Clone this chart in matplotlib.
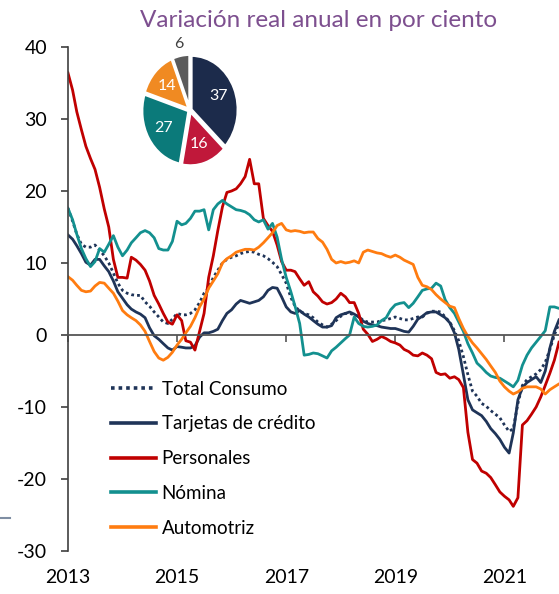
import numpy as np
import pandas as pd
import matplotlib
matplotlib.use('Agg')
import matplotlib.pyplot as plt
from matplotlib.lines import Line2D

plt.rcParams['font.family'] = ['Lato', 'DejaVu Sans']
plt.rcParams['font.size'] = 13
plt.rcParams['axes.unicode_minus'] = False

# monthly, Jan 2013 .. Jan 2022
fechas = pd.date_range('2013-01-01', periods=109, freq='MS')

total_consumo = [17.6, 15.8, 14.0, 12.6, 12.2, 12.2, 12.5, 11.8, 11.0, 10.0, 8.6, 7.2,
                 6.2, 5.8, 5.6, 5.5, 5.5, 4.6, 4.0, 3.2, 2.5, 1.8, 1.6, 2.2,
                 3.0, 2.8, 2.8, 3.0, 3.5, 4.5, 5.8, 6.5, 8.0, 9.0, 10.0, 10.5,
                 10.8, 11.0, 11.3, 11.5, 11.6, 11.5, 11.2, 11.0, 10.6, 10.1, 9.5, 8.4,
                 7.2, 5.2, 4.0, 3.3, 3.0, 2.8, 2.4, 1.8, 1.4, 1.1, 1.5, 2.0,
                 2.6, 3.0, 3.0, 2.8, 2.6, 2.0, 1.8, 1.8, 1.8, 2.0, 2.1, 2.3,
                 2.5, 2.3, 2.1, 2.1, 2.3, 2.5, 2.5, 3.0, 3.3, 3.3, 3.2, 2.5,
                 1.8, 0.6, -0.8, -3.0, -5.5, -7.8, -8.5, -9.5, -9.9, -10.5, -11.0, -11.5,
                 -12.5, -13.4, -13.0, -9.5, -7.0, -6.2, -5.8, -5.4, -4.8, -3.8, -2.0, 0.0,
                 1.6]

tarjetas = [13.9, 13.3, 12.4, 11.3, 10.1, 9.7, 10.5, 10.5, 9.6, 8.8, 7.5, 6.0,
            5.1, 4.2, 3.6, 3.2, 2.9, 2.4, 1.0, -0.1, -0.6, -1.2, -1.8, -2.1,
            -1.6, -1.7, -1.8, -1.8, -1.5, -0.3, 0.3, 0.3, 0.5, 0.8, 2.0, 3.0,
            3.5, 4.3, 4.8, 4.6, 4.4, 4.6, 4.8, 5.3, 6.2, 6.6, 6.5, 5.3,
            3.9, 3.2, 3.0, 3.4, 2.9, 2.5, 2.0, 1.5, 1.1, 1.1, 1.3, 2.4,
            2.8, 3.0, 3.2, 2.9, 2.5, 1.9, 1.6, 1.4, 1.3, 1.1, 1.0, 0.9,
            0.9, 0.7, 0.5, 0.4, 1.2, 2.2, 2.6, 3.1, 3.2, 3.2, 2.8, 2.4,
            1.7, 0.3, -2.0, -5.5, -9.0, -10.4, -10.8, -11.2, -12.0, -13.0, -13.7, -14.5,
            -15.6, -16.4, -13.6, -9.0, -7.3, -6.6, -6.2, -5.8, -6.6, -5.0, -1.8, 0.5,
            2.1]

personales = [36.4, 34.0, 31.0, 28.5, 26.2, 24.5, 23.0, 20.5, 17.5, 15.0, 10.5, 8.0,
              8.0, 7.9, 10.8, 10.4, 9.8, 9.0, 7.5, 5.5, 4.3, 3.0, 1.8, 1.5,
              2.8, 2.0, -0.8, -1.0, -2.1, 0.5, 3.0, 8.0, 11.0, 14.5, 17.8, 19.8,
              20.0, 20.3, 21.0, 22.0, 24.4, 21.0, 21.0, 16.2, 15.2, 14.4, 12.5, 10.2,
              9.0, 9.0, 8.8, 7.8, 6.9, 7.4, 6.0, 5.4, 4.6, 4.3, 4.5, 5.0,
              5.8, 5.3, 4.5, 4.5, 3.0, 0.8, 0.1, -0.9, -0.6, -0.2, -0.5, -0.9,
              -1.1, -1.4, -2.0, -2.3, -2.8, -2.9, -2.5, -2.8, -3.3, -5.2, -5.5, -5.4,
              -6.0, -5.8, -6.2, -7.3, -13.5, -17.3, -17.8, -18.9, -19.2, -19.8, -20.8, -21.8,
              -22.4, -22.9, -23.8, -22.6, -12.5, -11.9, -11.0, -10.0, -8.6, -7.0, -5.3, -3.5,
              -1.0]

nomina = [17.6, 16.0, 14.0, 12.0, 10.6, 9.5, 10.2, 12.0, 11.5, 12.6, 13.8, 12.2,
          11.0, 11.8, 12.8, 13.5, 14.2, 14.5, 14.2, 13.5, 12.0, 11.8, 11.8, 13.0,
          15.8, 15.3, 15.5, 16.2, 17.2, 17.2, 17.4, 14.6, 17.4, 18.2, 18.7, 18.2,
          17.8, 17.4, 17.3, 17.1, 16.7, 16.0, 15.7, 16.0, 14.7, 15.5, 13.6, 10.5,
          8.0, 6.0, 4.0, 1.6, -2.8, -2.7, -2.5, -2.6, -2.9, -3.2, -2.2, -1.7,
          -1.1, -0.5, 0.0, 2.5, 1.6, 1.2, 1.1, 1.2, 1.4, 2.0, 2.4, 3.5,
          4.2, 4.4, 4.5, 3.8, 4.4, 5.3, 6.2, 6.4, 6.5, 7.2, 6.8, 4.9,
          3.8, 3.0, 1.8, 0.5, -1.2, -2.5, -3.9, -4.5, -5.2, -5.7, -5.9, -6.0,
          -6.4, -6.8, -7.2, -6.3, -4.2, -2.8, -1.8, -1.0, -0.2, 0.6, 3.9, 3.9,
          3.7]

automotriz = [8.1, 7.6, 6.9, 6.2, 6.0, 6.1, 6.8, 7.3, 7.2, 6.5, 5.8, 4.7,
              3.4, 2.8, 2.4, 2.0, 1.4, 0.5, -0.9, -2.3, -3.2, -3.5, -3.1, -2.4,
              -1.4, -0.6, 0.3, 1.2, 2.4, 3.9, 5.0, 6.5, 7.5, 8.5, 10.0, 10.6,
              11.0, 11.5, 11.7, 11.9, 11.9, 11.8, 12.2, 12.8, 13.5, 14.2, 15.2, 15.5,
              14.6, 14.4, 14.5, 14.4, 14.2, 14.3, 14.3, 13.4, 12.9, 11.9, 10.5, 10.0,
              10.2, 10.0, 10.1, 10.3, 10.0, 11.5, 11.8, 11.6, 11.4, 11.3, 11.0, 10.8,
              11.1, 10.8, 10.4, 10.1, 9.8, 8.0, 6.9, 6.7, 6.3, 5.6, 5.0, 4.5,
              4.0, 3.8, 2.3, 0.9, -0.2, -1.1, -1.8, -2.6, -3.4, -4.3, -5.2, -6.4,
              -7.2, -7.8, -8.2, -7.9, -7.4, -7.2, -7.2, -7.2, -7.5, -8.2, -7.6, -7.2,
              -6.8]

# participacion en la cartera de consumo (%)
pie_valores = [37, 16, 27, 14, 6]
pie_colores = ['#1c2b4b', '#c0183a', '#0b7a7a', '#f08a22', '#5b5b5b']

anios_ticks = [2013, 2015, 2017, 2019, 2021]

navy = '#1f3458'

fig = plt.figure(figsize=(5.59, 5.94), dpi=100)
ax = fig.add_axes([0.1216, 0.0724, 0.8784, 0.8485])

ax.plot(fechas, total_consumo, color=navy, lw=2.0, ls=(0, (1, 1.1)), label='Total Consumo')
ax.plot(fechas, tarjetas, color=navy, lw=2.0, label='Tarjetas de crédito')
ax.plot(fechas, personales, color='#c00000', lw=2.0, label='Personales')
ax.plot(fechas, nomina, color='#13908f', lw=2.0, label='Nómina')
ax.plot(fechas, automotriz, color='#ff7c10', lw=2.0, label='Automotriz')

ax.set_ylim(-30, 40)
ax.set_yticks(range(-30, 41, 10))
ax.set_xlim(pd.Timestamp('2013-01-01'), pd.Timestamp('2022-01-01'))
xt = [pd.Timestamp(str(a) + '-01-01') for a in anios_ticks]
ax.set_xticks(xt)

for s in ['top', 'right']:
    ax.spines[s].set_visible(False)
ax.spines['left'].set_color('#404040')
ax.spines['left'].set_linewidth(1.2)
ax.spines['bottom'].set_position(('data', 0))
ax.spines['bottom'].set_color('#555555')
ax.spines['bottom'].set_linewidth(1.3)
ax.tick_params(axis='x', direction='out', length=5, width=1.2, color='#555555', labelbottom=False)
ax.tick_params(axis='y', direction='out', length=5, width=1.2, color='#404040', labelsize=14, pad=10)

secax = ax.secondary_xaxis('bottom')
secax.set_xticks(xt)
secax.set_xticklabels([str(a) for a in anios_ticks])
secax.tick_params(length=0, pad=13, labelsize=14)
secax.spines['bottom'].set_visible(False)

leg = ax.legend(loc='upper left', bbox_to_anchor=(0.185, 0.372), bbox_transform=fig.transFigure,
                frameon=False, fontsize=13.5, handlelength=2.4, handletextpad=0.3,
                labelspacing=0.95, borderaxespad=0)
for h in leg.get_lines():
    h.set_linewidth(2.6)

fig.text(0.569, 0.966, 'Variación real anual en por ciento', ha='center', va='center',
         fontsize=17.5, color='#7d4f8f')

# pastel
axp = fig.add_axes([0.2478, 0.7146, 0.184, 0.2])
wedges, texts, autotexts = axp.pie(pie_valores, colors=pie_colores, startangle=90, counterclock=False,
                                   explode=[0.03] * 5, labels=['', '', '', '', '6'], labeldistance=1.22,
                                   autopct=lambda p: '%d' % round(p) if p > 10 else '', pctdistance=0.63,
                                   wedgeprops=dict(edgecolor='white', linewidth=2),
                                   textprops=dict(fontsize=11.5))
for t in autotexts:
    t.set_color('white')
texts[4].set_color('#404040')
texts[4].set_ha('center')
axp.set_aspect('auto')
axp.set_xlim(-1.1, 1.1)
axp.set_ylim(-1.1, 1.1)

# trazo suelto a la izquierda
fig.add_artist(Line2D([0.0, 0.017], [0.128, 0.128], color='#7f8ea3', lw=1.5))

plt.savefig('out.png', dpi=100)
